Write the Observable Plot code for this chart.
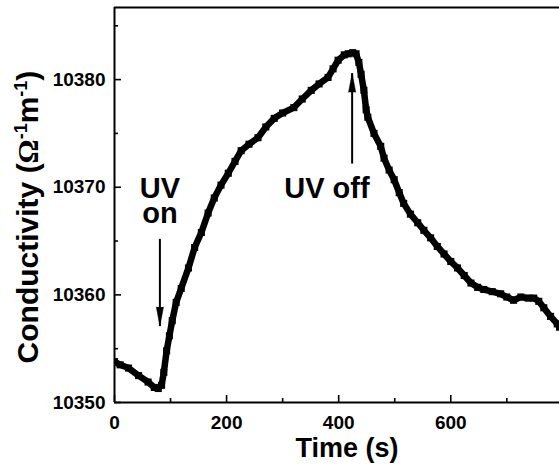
<!DOCTYPE html>
<html>
<head>
<meta charset="utf-8">
<script src="https://cdn.jsdelivr.net/npm/d3@7"></script>
<script src="https://cdn.jsdelivr.net/npm/@observablehq/plot@0.6"></script>
<style>
  html, body { margin: 0; padding: 0; background: #fff; }
</style>
</head>
<body>
<div id="chart"></div>
<script>
// ---- data ----
const times = [0, 10, 25, 43, 60, 71, 78, 84, 88, 93, 98, 103, 110, 119, 132, 143, 155, 167, 178, 190,
  203, 215, 226, 240, 256, 270, 285, 300, 320, 335, 351, 365, 381, 390, 399, 410, 417, 425, 431, 436,
  440, 445, 449, 452, 463, 475, 481, 490, 499, 508, 516, 528, 541, 552, 564, 576, 588, 600, 612, 624,
  636, 648, 659, 674, 689, 700, 712, 725, 738, 748, 757, 766, 778, 790, 794];
const conductivity = [10353.8, 10353.5, 10353.2, 10352.5, 10351.9, 10351.4, 10351.3, 10351.6, 10352.8, 10354.8,
  10356.2, 10357.6, 10359.3, 10360.6, 10362.5, 10364.4, 10365.8, 10367.6, 10369.0, 10370.2,
  10371.3, 10372.4, 10373.4, 10374.0, 10374.6, 10375.6, 10376.4, 10376.9, 10377.4, 10378.2,
  10379.0, 10379.6, 10380.2, 10381.0, 10381.8, 10382.3, 10382.4, 10382.5, 10382.4, 10381.6,
  10380.5, 10379.0, 10377.2, 10376.5, 10375.0, 10373.8, 10372.7, 10371.6, 10370.7, 10369.5,
  10368.5, 10367.5, 10366.7, 10366.0, 10365.3, 10364.5, 10363.8, 10363.1, 10362.5, 10361.8,
  10361.1, 10360.7, 10360.5, 10360.3, 10360.1, 10359.8, 10359.5, 10359.8, 10359.7, 10359.7,
  10359.4, 10358.8, 10358.0, 10357.3, 10357.0];

const xDomain = [0, 794];
const yDomain = [10350, 10386.7];
const xTicks = [0, 200, 400, 600];
const xMinorTicks = [100, 300, 500, 700];
const yTicks = [10350, 10360, 10370, 10380];
const yMinorTicks = [10355, 10365, 10375, 10385];

const labelTexts = ["UV", "on", "UV off"];
const labelX = [81, 81, 379];
const labelY = [10369.9, 10367.5, 10369.9];

const arrowX = [81, 424];
const arrowFrom = [10365.2, 10372.2];
const arrowTo = [10357.1, 10380.6];

const xLabel = "Time (s)";
const yLabel = "Conductivity (Ω-1m-1)";

// ---- build tables ----
const data = times.map((t, i) => ({t, c: conductivity[i]}));
const labels = labelTexts.map((text, i) => ({text, x: labelX[i], y: labelY[i]}));
const arrows = arrowX.map((x, i) => ({x, from: arrowFrom[i], to: arrowTo[i]}));

const W = 559, H = 468;
const mL = 114, mR = 0, mT = 7, mB = 66;
const innerH = H - mT - mB, innerW = W - mL - mR;
const font = "'Liberation Sans', Arial, Helvetica, sans-serif";

const chart = Plot.plot({
  width: W,
  height: H,
  marginLeft: mL,
  marginRight: mR,
  marginTop: mT,
  marginBottom: mB,
  style: {fontFamily: font, fontWeight: "bold", background: "#fff", color: "#000"},
  x: {domain: xDomain},
  y: {domain: yDomain},
  marks: [
    // frame (top, left, bottom)
    Plot.ruleY([yDomain[1]], {strokeWidth: 2}),
    Plot.ruleY([yDomain[0]], {strokeWidth: 2}),
    Plot.ruleX([xDomain[0]], {strokeWidth: 2}),
    // inward ticks
    Plot.ruleX(xTicks, {strokeWidth: 1.6, insetTop: innerH - 7}),
    Plot.ruleX(xMinorTicks, {strokeWidth: 1.6, insetTop: innerH - 4}),
    Plot.ruleY(yTicks, {strokeWidth: 1.6, insetRight: innerW - 7}),
    Plot.ruleY(yMinorTicks, {strokeWidth: 1.6, insetRight: innerW - 4}),
    // tick labels
    Plot.axisX({ticks: xTicks, tickSize: 0, tickPadding: 13, fontSize: 19, fontWeight: "bold", label: null, tickFormat: d => String(d)}),
    Plot.axisY({ticks: yTicks, tickSize: 0, tickPadding: 9, fontSize: 19, fontWeight: "bold", label: null, tickFormat: d => String(d)}),
    // data
    Plot.line(data, {x: "t", y: "c", stroke: "#000", strokeWidth: 6.5, strokeLinejoin: "miter", clip: true}),
    Plot.dot(data, {x: "t", y: "c", symbol: "square", r: 4, fill: "#000", clip: true}),
    // arrows
    Plot.link(arrows, {x1: "x", y1: "from", x2: "x", y2: "to", stroke: "#000", strokeWidth: 2}),
    Plot.vector(arrows, {x: "x", y: "to", length: 19, r: 3.6, shape: "spike", anchor: "end",
      rotate: d => (d.to < d.from ? 180 : 0), fill: "#000", stroke: "#000", strokeWidth: 0.5}),
    // annotations
    Plot.text(labels, {x: "x", y: "y", text: "text", fontSize: 29, fontWeight: "bold", fill: "#000"}),
    // axis titles
    Plot.text([xLabel], {frameAnchor: "bottom", textAnchor: "middle", lineAnchor: "middle", dx: 10, dy: 46, fontSize: 27, fontWeight: "bold", fill: "#000"}),
    Plot.text([yLabel], {frameAnchor: "left", textAnchor: "middle", lineAnchor: "middle", rotate: -90, dx: -86, dy: 12, fontSize: 30, fontWeight: "bold", fill: "#000"})
  ]
});

// superscripts in the y label
chart.querySelectorAll("text").forEach(el => {
  if (el.textContent === yLabel) {
    el.textContent = "";
    const ns = "http://www.w3.org/2000/svg";
    const parts = [
      {t: "Conductivity ("},
      {t: "Ω", family: "'Liberation Serif', 'Times New Roman', serif"},
      {t: "-1", sup: true},
      {t: "m", down: true},
      {t: "-1", sup: true},
      {t: ")", down: true}
    ];
    parts.forEach(p => {
      const ts = document.createElementNS(ns, "tspan");
      ts.textContent = p.t;
      if (p.family) ts.setAttribute("font-family", p.family);
      if (p.sup) { ts.setAttribute("font-size", 18); ts.setAttribute("dy", -11); }
      if (p.down) ts.setAttribute("dy", 11);
      el.appendChild(ts);
    });
  }
});

document.getElementById("chart").appendChild(chart);
</script>
</body>
</html>
